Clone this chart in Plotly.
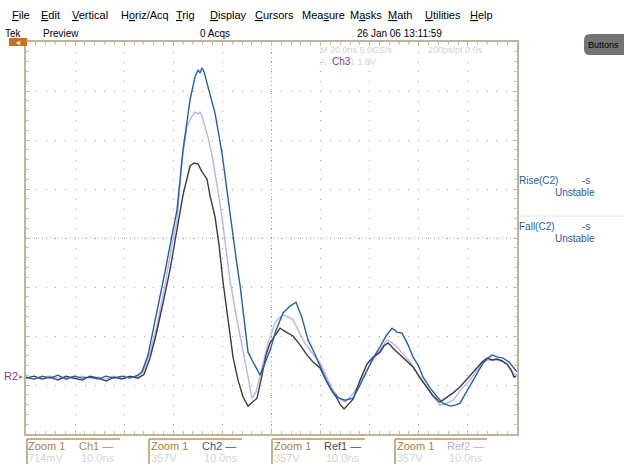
import plotly.graph_objects as go

# ---------------- data (time in ns, amplitude in divisions) ----------------
base_t = [0, 1.63, 3.26, 4.89, 6.52, 8.15, 9.78, 11.41, 13.04, 14.67, 16.30, 17.92, 19.55, 21.18, 22.81]

ch2_t = base_t + [23.63, 24.85, 26.28, 28.31, 29.74, 30.76, 31.98, 33.41, 34.42, 35.04, 35.44, 35.85, 36.26, 37.07,
                  38.50, 39.92, 41.15, 41.96, 42.78, 43.59, 44.61, 45.22, 46.24, 47.67, 48.68, 49.70, 50.93, 52.35,
                  53.78, 55.00, 56.22, 57.44, 58.67, 59.89, 61.11, 62.54, 63.76, 64.98, 66.61, 68.04, 69.46, 70.69,
                  72.11, 73.33, 74.56, 75.57, 76.59, 77.81, 78.83, 79.85, 80.87, 82.29, 83.72, 84.94, 86.37, 87.39,
                  88.40, 89.63, 91.05, 92.07, 93.09, 94.11, 94.92, 96.14, 97.16, 98.38, 99.61, 100.0]
ch2_v = [-2.84, -2.88, -2.82, -2.86, -2.80, -2.88, -2.82, -2.86, -2.84, -2.88, -2.82, -2.86, -2.82, -2.86, -2.80,
         -2.73, -2.39, -1.71, -0.69, 0.06, 0.57, 1.80, 2.82, 3.29, 3.43, 3.37, 3.47, 3.39, 3.08,
         2.55, 1.73, 0.78, 0.16, -0.41, -0.96, -1.78, -2.33, -2.53, -2.80, -2.55, -2.29, -1.88, -1.53,
         -1.39, -1.31, -1.63, -2.08, -2.33, -2.63, -2.90, -3.16, -3.27, -3.31, -3.27, -3.00, -2.69, -2.45,
         -2.22, -2.00, -1.84, -1.92, -1.94, -2.18, -2.43, -2.59, -2.84, -3.06, -3.24, -3.37, -3.43, -3.41,
         -3.37, -3.16, -2.90, -2.73, -2.55, -2.45, -2.39, -2.43, -2.45, -2.53, -2.69, -2.73]

ref1_t = base_t + [24.04, 25.26, 26.48, 27.91, 29.33, 30.56, 31.98, 33.41, 34.22, 35.04, 35.85, 36.87, 37.48, 38.50,
                   39.31, 40.13, 41.15, 42.17, 43.18, 44.20, 45.22, 46.04, 47.05, 48.07, 48.89, 49.70, 50.72, 51.74,
                   52.96, 54.39, 55.81, 57.24, 58.46, 59.89, 60.91, 61.93, 63.15, 63.96, 64.78, 65.60, 66.61, 68.04,
                   69.46, 70.69, 72.11, 72.93, 73.74, 74.96, 76.18, 77.41, 78.83, 80.26, 81.68, 82.90, 84.33, 85.55,
                   86.98, 88.40, 89.42, 90.44, 91.87, 92.89, 93.91, 94.92, 95.94, 96.96, 97.98, 98.79, 99.40, 100.0]
ref1_v = [-2.86, -2.82, -2.88, -2.84, -2.90, -2.82, -2.86, -2.90, -2.82, -2.86, -2.92, -2.84, -2.88, -2.82, -2.86,
          -2.78, -2.45, -1.98, -1.33, -0.65, 0.06, 0.88, 1.47, 1.53, 1.51, 1.35, 1.20, 0.86, 0.43,
          -0.14, -0.90, -1.67, -2.43, -2.90, -3.24, -3.43, -3.35, -3.27, -2.80, -2.39, -2.14, -1.98, -1.84,
          -1.92, -2.00, -2.18, -2.39, -2.53, -2.65, -2.86, -3.06, -3.24, -3.39, -3.49, -3.39, -3.29, -2.90,
          -2.57, -2.43, -2.33, -2.20, -2.14, -2.27, -2.39, -2.49, -2.63, -2.86, -3.06, -3.22, -3.35, -3.27,
          -3.16, -3.04, -2.92, -2.80, -2.63, -2.53, -2.45, -2.49, -2.47, -2.51, -2.57, -2.69, -2.84, -2.80]

ref2_t = base_t + [23.83, 25.26, 26.68, 28.31, 29.74, 30.76, 31.78, 32.79, 33.61, 34.42, 35.04, 35.44, 35.85, 37.07,
                   38.09, 39.11, 39.92, 40.74, 41.55, 42.78, 44.00, 45.02, 46.04, 46.85, 47.67, 48.28, 49.30, 50.72,
                   51.54, 52.35, 53.37, 54.39, 55.41, 56.42, 57.85, 59.07, 59.89, 61.31, 62.54, 63.76, 64.98, 66.41,
                   68.04, 69.26, 70.69, 72.11, 73.54, 74.56, 75.57, 76.80, 78.22, 79.85, 81.68, 82.90, 84.33, 85.75,
                   86.98, 88.40, 89.63, 90.44, 91.87, 92.89, 93.91, 95.13, 96.55, 97.98, 99.20, 100.0]
ref2_v = [-2.84, -2.88, -2.84, -2.82, -2.86, -2.84, -2.88, -2.82, -2.86, -2.84, -2.88, -2.82, -2.86, -2.84, -2.82,
          -2.73, -2.33, -1.78, -0.96, -0.14, 0.37, 1.59, 2.27, 2.45, 2.57, 2.53, 2.57, 2.49, 2.06,
          1.59, 0.98, 0.43, -0.24, -0.86, -1.57, -2.22, -2.80, -3.27, -3.14, -2.80, -2.55, -2.14, -1.73,
          -1.63, -1.57, -1.61, -1.67, -1.88, -2.08, -2.29, -2.45, -2.55, -2.86, -3.10, -3.27, -3.35, -3.20,
          -2.96, -2.73, -2.49, -2.29, -2.08, -2.14, -2.22, -2.37, -2.53, -2.78, -3.04, -3.24, -3.41, -3.37,
          -3.31, -3.12, -3.00, -2.90, -2.69, -2.57, -2.49, -2.49, -2.49, -2.59, -2.76, -2.80]

menu_items = ["<u>F</u>ile", "<u>E</u>dit", "<u>V</u>ertical", "H<u>o</u>riz/Acq", "<u>T</u>rig", "<u>D</u>isplay",
              "<u>C</u>ursors", "Mea<u>s</u>ure", "M<u>a</u>sks", "<u>M</u>ath", "<u>U</u>tilities", "<u>H</u>elp"]

# ---------------- figure ----------------
W, H = 624, 464
L, R, T, B = 26, 517, 42, 434
FONT = "Liberation Sans, Arial, sans-serif"

def px(x):
    return (x - L) / (R - L)

def py(y):
    return (B - y) / (B - T)

fig = go.Figure()
fig.add_trace(go.Scatter(x=ref2_t, y=ref2_v, mode="lines", line=dict(color="#b9b3ea", width=1.4), name="Ref2"))
fig.add_trace(go.Scatter(x=ref1_t, y=ref1_v, mode="lines", line=dict(color="#3c3c3c", width=1.4), name="Ref1"))
fig.add_trace(go.Scatter(x=ch2_t, y=ch2_v, mode="lines", line=dict(color="#2160a8", width=1.4), name="Ch2"))

axis_common = dict(showgrid=True, gridcolor="#9a9a9a", griddash="1px,8.8px", gridwidth=1, zeroline=False,
                   showticklabels=False, showline=True, linecolor="#bdb59a", linewidth=1.5, mirror="ticks",
                   ticks="inside", ticklen=4, tickcolor="#c4c0a4")
fig.update_xaxes(range=[0, 100], dtick=10, minor=dict(dtick=2, ticks="inside", ticklen=3, tickcolor="#c8c4a8",
                                                        showgrid=False), **axis_common)
fig.update_yaxes(range=[-4, 4], dtick=1, minor=dict(dtick=0.2, ticks="inside", ticklen=3, tickcolor="#c8c4a8",
                                                      showgrid=False), **axis_common)

shapes = []
# centre graticule lines
shapes.append(dict(type="line", xref="x", yref="paper", x0=50, x1=50, y0=0, y1=1,
                   line=dict(color="#a8a8a8", width=1, dash="1px,3px"), layer="below"))
shapes.append(dict(type="line", xref="paper", yref="y", x0=0, x1=1, y0=0, y1=0,
                   line=dict(color="#a8a8a8", width=1, dash="1px,3px"), layer="below"))
# trigger position marker
shapes.append(dict(type="rect", xref="paper", yref="paper", x0=px(9), x1=px(27), y0=py(46), y1=py(38),
                   fillcolor="#c8701e", line=dict(width=0)))
# Buttons pill (rounded)
x0b, x1b, y0b, y1b = px(584), px(630), py(55), py(34)
rx = 6 / (R - L)
ry = 6 / (B - T)
shapes.append(dict(type="path", xref="paper", yref="paper",
                   path=(f"M {x0b+rx},{y1b} L {x1b},{y1b} L {x1b},{y0b} L {x0b+rx},{y0b} "
                         f"Q {x0b},{y0b} {x0b},{y0b+ry} L {x0b},{y1b-ry} Q {x0b},{y1b} {x0b+rx},{y1b} Z"),
                   fillcolor="#747474", line=dict(width=0)))
# measurement separator
shapes.append(dict(type="line", xref="paper", yref="paper", x0=px(518), x1=px(624), y0=py(216), y1=py(216),
                   line=dict(color="#e0e0e0", width=1)))
# bottom readout boxes
for bx, ex in [(27, 120), (149, 242), (272, 365), (395, 487)]:
    shapes.append(dict(type="line", xref="paper", yref="paper", x0=px(bx), x1=px(ex), y0=py(439), y1=py(439),
                       line=dict(color="#b39464", width=1.5)))
    shapes.append(dict(type="line", xref="paper", yref="paper", x0=px(bx), x1=px(bx), y0=py(439), y1=py(464),
                       line=dict(color="#b39464", width=1.5)))

ann = []

def text(x, y, s, color="#000000", size=10, anchor="left"):
    ann.append(dict(xref="paper", yref="paper", x=px(x), y=py(y), text=s, showarrow=False,
                    xanchor=anchor, yanchor="middle", xshift=-2,
                    font=dict(family=FONT, size=size, color=color)))

menu_x = [12, 41, 72, 121, 176, 210, 255, 302, 350, 388, 425, 470]
for mx, s in zip(menu_x, menu_items):
    text(mx, 15, s, size=11)
text(5, 34, "Tek")
text(43, 34, "Preview")
text(200, 34, "0 Acqs")
text(357, 34, "26 Jan 06 13:11:59")
text(588, 45, "Buttons", size=9)
text(16, 42, "◂", color="#ffffff", size=8)

text(320, 50, "M 20.0ns 5.0GS/s", color="#d2d2d2", size=9)
text(428, 50, "200ps/pt 0.0s", color="#d2d2d2", size=9)
text(320, 62, "A", color="#d2d2d2", size=9)
text(332, 62, "Ch3", color="#8b3590", size=10)
text(350, 62, "⤵ 1.8V", color="#d2d2d2", size=9)

text(519, 180, "Rise(C2)", color="#2a5aa8")
text(582, 180, "-s", color="#2a5aa8")
text(555, 192, "Unstable", color="#2a5aa8")
text(519, 226, "Fall(C2)", color="#2a5aa8")
text(582, 226, "-s", color="#2a5aa8")
text(555, 238, "Unstable", color="#2a5aa8")

text(4, 376, "R2", color="#8b3590", size=11)
text(19, 376, "▸", color="#d07a20", size=8)

labels = [(28, 79, "Ch1 —", "#a88a4a", "714mV"), (151, 202, "Ch2 —", "#2a5aa8", "357V"),
          (274, 324, "Ref1 —", "#4a4a4a", "357V"), (397, 447, "Ref2 —", "#b4aee6", "357V")]
for zx, cx, cname, ccol, scale in labels:
    text(zx, 446, "Zoom 1", color="#a8803c", size=11)
    text(cx, 446, cname, color=ccol, size=11)
    text(zx, 458, scale, color="#d4d4d4", size=11)
    text(cx + 2, 458, "10.0ns", color="#d4d4d4", size=11)

fig.update_layout(width=W, height=H, margin=dict(l=L, r=W - R, t=T, b=H - B, pad=0),
                  paper_bgcolor="#ffffff", plot_bgcolor="#ffffff", showlegend=False,
                  shapes=shapes, annotations=ann)

fig.write_html("out.html", config={"displayModeBar": False},
               post_script="document.body.style.margin='0';document.body.style.overflow='hidden';")
